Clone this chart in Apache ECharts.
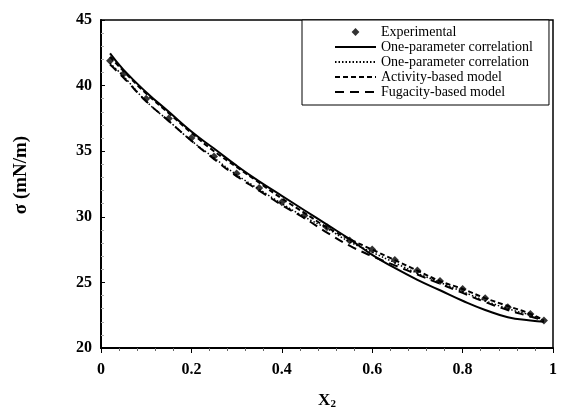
<!DOCTYPE html>
<html>
<head>
<meta charset="utf-8">
<script src="https://cdn.jsdelivr.net/npm/echarts@6/dist/echarts.min.js"></script>
<style>html,body{margin:0;padding:0;background:#fff}#c{width:561px;height:412px}</style>
</head>
<body>
<div id="c"></div>
<script>
var xValues = [0.02,0.05,0.1,0.15,0.2,0.25,0.3,0.35,0.4,0.45,0.5,0.55,0.6,0.65,0.7,0.75,0.8,0.85,0.9,0.95,0.98];
var experimental = [41.9,40.9,39.0,37.5,36.0,34.6,33.3,32.2,31.1,30.1,29.2,28.2,27.5,26.7,25.9,25.1,24.5,23.8,23.1,22.6,22.1];
var oneParamSolid = [42.45,41.2,39.5,38.0,36.5,35.2,33.9,32.7,31.6,30.5,29.4,28.3,27.1,26.1,25.2,24.4,23.6,22.9,22.35,22.1,22.0];
var oneParamDotted = [41.7,40.7,38.8,37.3,35.8,34.5,33.2,32.1,31.0,30.0,29.1,28.1,27.3,26.5,25.7,25.0,24.3,23.6,23.0,22.5,22.1];
var activityModel = [42.2,41.1,39.4,37.9,36.4,35.0,33.8,32.6,31.4,30.3,29.2,28.3,27.5,26.7,25.9,25.1,24.5,23.8,23.2,22.6,22.1];
var fugacityModel = [41.6,40.6,38.8,37.3,35.8,34.4,33.1,32.0,30.9,29.9,28.8,27.8,27.0,26.3,25.6,24.9,24.2,23.5,22.9,22.4,22.1];
var seriesNames = ['Experimental','One-parameter correlationl','One-parameter correlation','Activity-based model','Fugacity-based model'];
var xTicks = [0,0.2,0.4,0.6,0.8,1];
var yTicks = [20,25,30,35,40,45];

function pairs(ys){ return xValues.map(function(x,i){ return [x, ys[i]]; }); }
var serif = 'Liberation Serif';
var hideSym = {opacity:0};
var chart = echarts.init(document.getElementById('c'));
chart.setOption({
  animation:false,
  backgroundColor:'#fff',
  grid:{left:101,right:8,top:20,bottom:64,show:true,borderColor:'#000',borderWidth:1.5,backgroundColor:'transparent',
    containLabel:false,outerBoundsMode:'none'},
  legend:{
    orient:'vertical', left:302, top:20,
    padding:[5,16,6,32],
    borderColor:'#000', borderWidth:1, backgroundColor:'#fff',
    itemWidth:41, itemHeight:10, itemGap:1,
    textStyle:{fontFamily:serif,fontSize:14,color:'#000'},
    data:[
      {name:seriesNames[0], icon:'path://M0,0M42,10M17,5L21,1L25,5L21,9Z'},
      {name:seriesNames[1], itemStyle:hideSym},
      {name:seriesNames[2], itemStyle:hideSym},
      {name:seriesNames[3], itemStyle:hideSym},
      {name:seriesNames[4], itemStyle:hideSym}
    ]
  },
  xAxis:{
    type:'value', min:0, max:1, interval:0.2,
    name:'{a|X}{b|2}', nameLocation:'middle', nameGap:44,
    nameTextStyle:{rich:{a:{fontFamily:serif,fontWeight:'bold',fontSize:17,color:'#000'},b:{fontFamily:serif,fontWeight:'bold',fontSize:11,color:'#000',verticalAlign:'bottom',padding:[7,0,0,0]}}},
    axisLine:{lineStyle:{color:'#000',width:2}},
    axisTick:{show:true,inside:false,length:5,lineStyle:{color:'#000',width:1}},
    minorTick:{show:true,splitNumber:5,length:3,lineStyle:{color:'#666',width:1}},
    splitLine:{show:false},
    axisLabel:{fontFamily:serif,fontWeight:'bold',fontSize:16,color:'#000',margin:14,
      formatter:function(v){ return xTicks.indexOf(+v.toFixed(1))>=0 ? String(+v.toFixed(1)) : ''; }}
  },
  yAxis:{
    type:'value', min:20, max:45, interval:5,
    name:'σ (mN/m)', nameLocation:'middle', nameGap:70, nameRotate:90,
    nameTextStyle:{fontFamily:serif,fontWeight:'bold',fontSize:19,color:'#000',padding:[0,0,0,18]},
    axisLine:{lineStyle:{color:'#000',width:2}},
    axisTick:{show:true,inside:true,length:4,lineStyle:{color:'#000',width:1}},
    minorTick:{show:true,splitNumber:5,length:3,lineStyle:{color:'#aaa',width:1}},
    splitLine:{show:false},
    axisLabel:{fontFamily:serif,fontWeight:'bold',fontSize:16,color:'#000',margin:9,padding:[8,0,0,0],
      formatter:function(v){ return yTicks.indexOf(v)>=0 ? String(v) : ''; }}
  },
  series:[
    {name:seriesNames[1],type:'line',data:pairs(oneParamSolid),smooth:true,symbol:'none',z:3,
      lineStyle:{color:'#000',width:2,type:'solid'},itemStyle:{color:'#000'}},
    {name:seriesNames[2],type:'line',data:pairs(oneParamDotted),smooth:true,symbol:'none',z:3,
      lineStyle:{color:'#000',width:1.5,type:[1.5,2]},itemStyle:{color:'#000'}},
    {name:seriesNames[3],type:'line',data:pairs(activityModel),smooth:true,symbol:'none',z:3,
      lineStyle:{color:'#000',width:2,type:[5,3]},itemStyle:{color:'#000'}},
    {name:seriesNames[4],type:'line',data:pairs(fugacityModel),smooth:true,symbol:'none',z:3,
      lineStyle:{color:'#000',width:2,type:[9,6]},itemStyle:{color:'#000'}},
    {name:seriesNames[0],type:'scatter',data:pairs(experimental),symbol:'diamond',symbolSize:8,z:4,
      itemStyle:{color:'#000'}}
  ]
});
</script>
</body>
</html>
